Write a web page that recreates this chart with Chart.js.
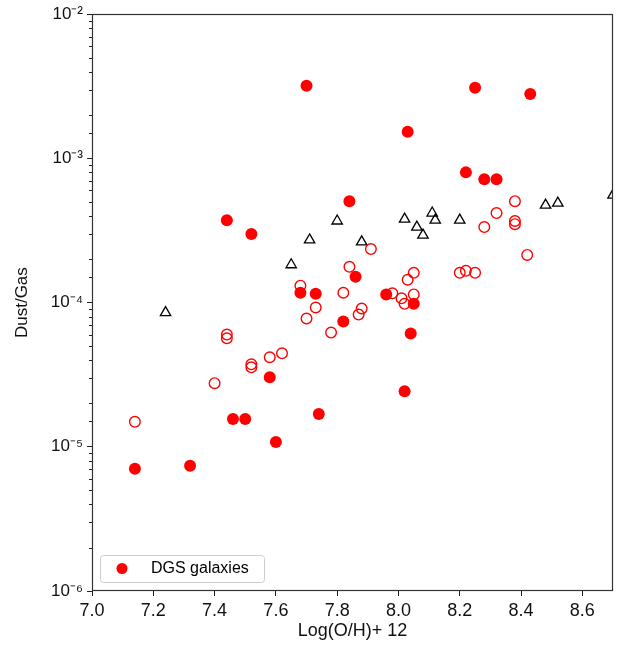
<!DOCTYPE html>
<html>
<head>
<meta charset="utf-8">
<script src="https://cdn.jsdelivr.net/npm/chart.js@4.4.0/dist/chart.umd.min.js"></script>
<style>
html,body{margin:0;padding:0;background:#fff;}
#wrap{width:627px;height:651px;position:relative;}
</style>
</head>
<body>
<div id="wrap"><canvas id="c" width="627" height="651"></canvas></div>
<script>
// DGS galaxies (filled red circles)
const filledX = [7.70, 8.25, 8.43, 8.03, 8.22, 8.28, 8.32, 7.84, 7.44, 7.52, 7.86, 7.68, 7.73, 7.96, 8.05, 7.82, 8.04, 7.58, 8.02, 7.74, 7.46, 7.50, 7.60, 7.32, 7.14];
const filledY = [3.19e-3, 3.09e-3, 2.8e-3, 1.53e-3, 8.0e-4, 7.16e-4, 7.16e-4, 5.05e-4, 3.73e-4, 2.99e-4, 1.51e-4, 1.17e-4, 1.15e-4, 1.14e-4, 9.8e-5, 7.4e-5, 6.1e-5, 3.04e-5, 2.43e-5, 1.69e-5, 1.56e-5, 1.56e-5, 1.08e-5, 7.4e-6, 7.05e-6];
// open red circles
const openX = [8.38, 8.32, 8.38, 8.38, 8.28, 7.91, 8.42, 7.84, 8.20, 8.22, 8.25, 8.05, 8.03, 7.68, 7.82, 7.98, 8.05, 8.01, 8.02, 7.73, 7.88, 7.87, 7.70, 7.78, 7.44, 7.44, 7.62, 7.58, 7.52, 7.52, 7.40, 7.14];
const openY = [5.05e-4, 4.18e-4, 3.68e-4, 3.5e-4, 3.34e-4, 2.35e-4, 2.14e-4, 1.77e-4, 1.61e-4, 1.66e-4, 1.61e-4, 1.61e-4, 1.44e-4, 1.31e-4, 1.17e-4, 1.16e-4, 1.14e-4, 1.07e-4, 9.8e-5, 9.25e-5, 9.1e-5, 8.26e-5, 7.76e-5, 6.2e-5, 6.0e-5, 5.65e-5, 4.45e-5, 4.18e-5, 3.73e-5, 3.56e-5, 2.76e-5, 1.49e-5];
// open black triangles
const triX = [7.24, 7.65, 7.71, 7.80, 7.88, 8.02, 8.11, 8.12, 8.06, 8.08, 8.20, 8.48, 8.52, 8.70];
const triY = [8.53e-5, 1.83e-4, 2.72e-4, 3.68e-4, 2.64e-4, 3.79e-4, 4.18e-4, 3.73e-4, 3.34e-4, 2.94e-4, 3.73e-4, 4.74e-4, 4.9e-4, 5.56e-4];

const xTicks = [7.0, 7.2, 7.4, 7.6, 7.8, 8.0, 8.2, 8.4, 8.6];
const yTickLabels = {'-6':'10⁻⁶','-5':'10⁻⁵','-4':'10⁻⁴','-3':'10⁻³','-2':'10⁻²'};
const legendLabel = 'DGS galaxies';
const xTitle = 'Log(O/H)+ 12';
const yTitle = 'Dust/Gas';

const pts = (xs, ys) => xs.map((x, i) => ({x: x, y: ys[i]}));
const FONT = "'Liberation Sans', Arial, sans-serif";

function isDecade(v){ const l = Math.log10(v); return Math.abs(l - Math.round(l)) < 1e-6; }

const framePlugin = {
  id: 'frame',
  afterDraw(chart) {
    const {ctx, chartArea: a} = chart;
    const ys = chart.scales.y;
    ctx.save();
    // minor ticks on y
    ctx.strokeStyle = '#222';
    ctx.lineWidth = 1;
    ys.ticks.forEach(t => {
      if (!isDecade(t.value)) {
        const py = Math.round(ys.getPixelForValue(t.value)) + 0.5;
        ctx.beginPath(); ctx.moveTo(a.left - 3, py); ctx.lineTo(a.left, py); ctx.stroke();
      }
    });
    // frame
    ctx.strokeStyle = '#333';
    ctx.lineWidth = 1.2;
    ctx.strokeRect(Math.round(a.left) + 0.5, Math.round(a.top) + 0.5, Math.round(a.right - a.left) - 1, Math.round(a.bottom - a.top) - 1);
    // legend
    const lx = a.left + 8, ly = a.bottom - 36, lw = 164, lh = 27;
    ctx.beginPath();
    ctx.roundRect(lx + 0.5, ly + 0.5, lw, lh, 3);
    ctx.fillStyle = 'rgba(255,255,255,0.85)';
    ctx.fill();
    ctx.strokeStyle = '#cccccc';
    ctx.lineWidth = 1;
    ctx.stroke();
    ctx.beginPath();
    ctx.arc(lx + 22, ly + 13.5, 5.5, 0, Math.PI * 2);
    ctx.fillStyle = '#ff0000';
    ctx.fill();
    ctx.fillStyle = '#000';
    ctx.font = '16px ' + FONT;
    ctx.textBaseline = 'middle';
    ctx.textAlign = 'left';
    ctx.fillText(legendLabel, lx + 51, ly + 14);
    ctx.restore();
  }
};

new Chart(document.getElementById('c'), {
  type: 'scatter',
  data: {
    datasets: [
      {label: legendLabel, data: pts(filledX, filledY), pointStyle: 'circle', pointRadius: 6, pointBackgroundColor: '#ff0000', pointBorderColor: '#ff0000', pointBorderWidth: 0, order: 0, clip: 0},
      {label: 'open', data: pts(openX, openY), pointStyle: 'circle', pointRadius: 5.3, pointBackgroundColor: 'rgba(0,0,0,0)', pointBorderColor: '#ff0000', pointBorderWidth: 1.4, order: 1, clip: 0},
      {label: 'tri', data: pts(triX, triY), pointStyle: 'triangle', pointRadius: 6, pointBackgroundColor: 'rgba(0,0,0,0)', pointBorderColor: '#000000', pointBorderWidth: 1.3, order: 2, clip: 0}
    ]
  },
  options: {
    responsive: false,
    animation: false,
    events: [],
    layout: {padding: {left: 0, right: 14, top: 11, bottom: 0}},
    plugins: {legend: {display: false}, tooltip: {enabled: false}},
    scales: {
      x: {
        type: 'linear', min: 7.0, max: 8.7,
        border: {display: false},
        grid: {drawOnChartArea: false, drawTicks: true, tickLength: 5, tickColor: '#222', tickWidth: 1},
        afterBuildTicks: (s) => { s.ticks = xTicks.map(v => ({value: v})); },
        ticks: {color: '#111', font: {family: FONT, size: 18}, padding: 4, maxRotation: 0, autoSkip: false,
          callback: (v) => Number(v).toFixed(1)},
        title: {display: true, text: xTitle, color: '#111', font: {family: FONT, size: 18}, padding: {top: 0, bottom: 9}},
        afterFit: (s) => { s.height = 60; }
      },
      y: {
        type: 'logarithmic', min: 1e-6, max: 1e-2,
        border: {display: false},
        grid: {drawOnChartArea: false, drawTicks: true, tickLength: 5, tickWidth: 1,
          tickColor: (c) => (c.tick && isDecade(c.tick.value)) ? '#222' : 'rgba(0,0,0,0)'},
        ticks: {color: '#111', font: {family: FONT, size: 17}, padding: 4, autoSkip: false,
          callback: (v) => { if (!isDecade(v)) return ''; const k = String(Math.round(Math.log10(v))); return yTickLabels[k] || ''; }},
        title: {display: true, text: yTitle, color: '#111', font: {family: FONT, size: 17}, padding: {top: 12, bottom: 0}},
        afterFit: (s) => { s.width = 92; }
      }
    }
  },
  plugins: [framePlugin]
});
</script>
</body>
</html>
